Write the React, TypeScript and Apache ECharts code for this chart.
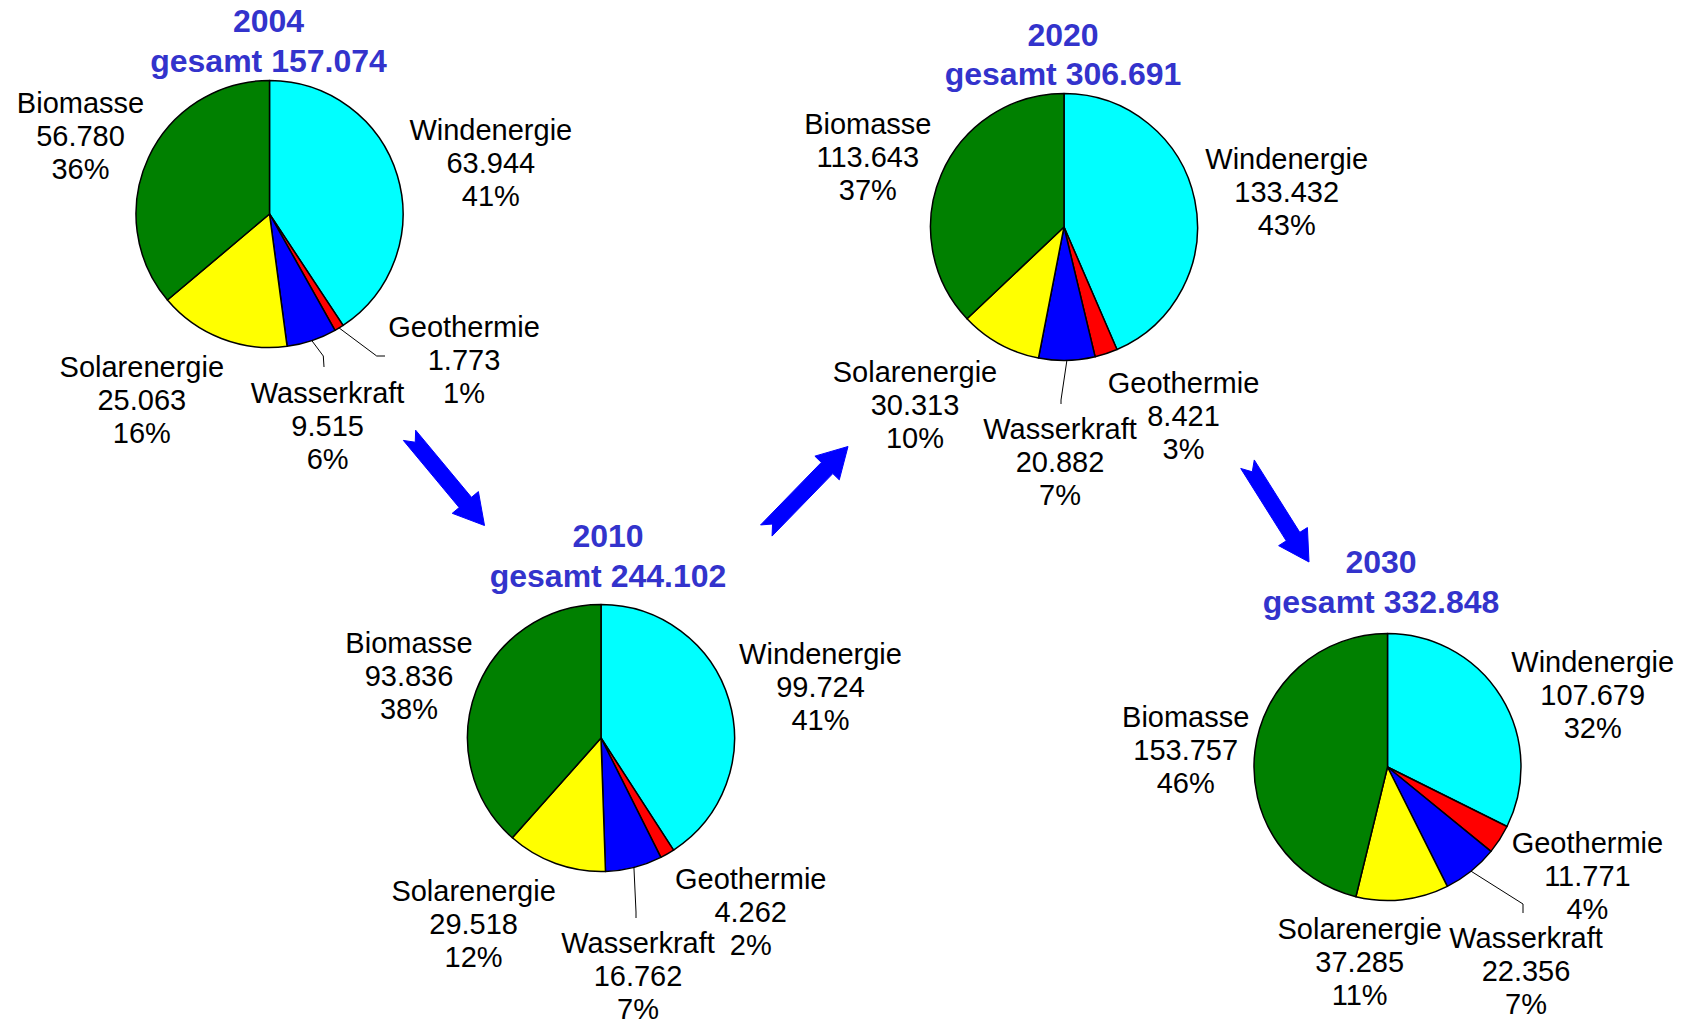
import React, { useEffect, useRef } from "react";
import * as echarts from "echarts";

// Energy sources, in the order the slices run clockwise from 12 o'clock
const sources = ["Windenergie", "Geothermie", "Wasserkraft", "Solarenergie", "Biomasse"];
const sourceColors = ["#00FFFF", "#FF0000", "#0000FF", "#FFFF00", "#008000"];

const years = ["2004", "2010", "2020", "2030"];
const totals = [157074, 244102, 306691, 332848];

const values2004 = [63944, 1773, 9515, 25063, 56780];
const values2010 = [99724, 4262, 16762, 29518, 93836];
const values2020 = [133432, 8421, 20882, 30313, 113643];
const values2030 = [107679, 11771, 22356, 37285, 153757];
const valuesByYear = [values2004, values2010, values2020, values2030];

// ---- layout (pixels) ----
const W = 1684;
const H = 1025;
const FONT = '"Liberation Sans", Arial, Helvetica, sans-serif';
const pieCenters = [
  [269.5, 214],
  [601, 738],
  [1064, 227],
  [1387.5, 767],
];
const pieRadius = 133.5;
const titlePos = [
  [268.5, 1.5],
  [608, 516.5],
  [1063, 15],
  [1381, 542.5],
];
// centre of each label block, per pie, in slice order
const labelPos = [
  [[490.8, 163.2], [464, 359.8], [327.6, 426.4], [141.8, 399.5], [80.5, 136.4]],
  [[820.5, 687], [750.7, 911.8], [638, 975.5], [473.6, 923.6], [409, 675.5]],
  [[1286.7, 192.2], [1183.5, 415.6], [1060, 461.8], [915, 405], [867.8, 156.8]],
  [[1592.7, 694.9], [1587.4, 876.4], [1526, 970.9], [1359.7, 962.3], [1185.7, 749.7]],
];
// leader lines: bend point and end point, keyed "pie-slice"
const leaders: Record<string, number[][]> = {
  "0-1": [[376.7, 356], [385, 356]],
  "0-2": [[323.3, 356], [324, 367]],
  "1-2": [[636, 912], [636, 918]],
  "2-2": [[1061, 400], [1061, 404]],
  "3-2": [[1523, 904], [1523, 913]],
};
// block arrows: tail centre -> tip
const arrows = [
  [[409.5, 435.3], [484.5, 525.5]],
  [[766.3, 530.5], [848, 446.5]],
  [[1247.5, 464.2], [1309, 562]],
];

const formatThousands = (n: number) =>
  String(n).replace(/\B(?=(\d{3})+(?!\d))/g, ".");

function arrowPoints(tail: number[], tip: number[]) {
  const shaftW = 16;
  const headW = 34;
  const headL = 30;
  const notch = 9;
  const dx = tip[0] - tail[0];
  const dy = tip[1] - tail[1];
  const len = Math.hypot(dx, dy);
  const ux = dx / len;
  const uy = dy / len;
  const vx = -uy;
  const vy = ux;
  const pt = (u: number, v: number) => [tail[0] + ux * u + vx * v, tail[1] + uy * u + vy * v];
  return [
    pt(0, -shaftW / 2),
    pt(len - headL, -shaftW / 2),
    pt(len - headL, -headW / 2),
    pt(len, 0),
    pt(len - headL, headW / 2),
    pt(len - headL, shaftW / 2),
    pt(0, shaftW / 2),
    pt(notch, 0),
  ];
}

function buildOption(): echarts.EChartsOption {
  const series: any[] = valuesByYear.map((values, i) => ({
    type: "pie",
    name: years[i],
    center: pieCenters[i],
    radius: pieRadius,
    startAngle: 90,
    clockwise: true,
    avoidLabelOverlap: false,
    percentPrecision: 0,
    silent: true,
    itemStyle: { borderColor: "#000", borderWidth: 1.5 },
    label: {
      show: true,
      position: "outside",
      fontFamily: FONT,
      fontSize: 29,
      lineHeight: 33,
      color: "#000",
      align: "center",
      formatter: (p: any) => `${p.name}\n${formatThousands(p.value)}\n${p.percent}%`,
    },
    labelLine: {
      show: true,
      length: 10,
      length2: 10,
      lineStyle: { color: "#000", width: 1 },
    },
    labelLayout: (params: any) => {
      const j = params.dataIndex;
      const pos = labelPos[i][j];
      const res: any = { x: pos[0], y: pos[1], align: "center", verticalAlign: "middle" };
      const lead = leaders[`${i}-${j}`];
      if (lead && params.labelLinePoints) {
        res.labelLinePoints = [params.labelLinePoints[0], lead[0], lead[1]];
      }
      return res;
    },
    data: values.map((v, j) => ({
      name: sources[j],
      value: v,
      itemStyle: { color: sourceColors[j] },
      labelLine: { show: !!leaders[`${i}-${j}`] },
    })),
  }));

  const graphic: any[] = [
    ...years.map((y, i) => ({
      type: "text",
      x: titlePos[i][0],
      y: titlePos[i][1],
      silent: true,
      style: {
        text: `${y}\ngesamt ${formatThousands(totals[i])}`,
        fill: "#3333CC",
        fontFamily: FONT,
        fontWeight: "bold",
        fontSize: 32,
        lineHeight: 39.5,
        align: "center",
        verticalAlign: "top",
      },
    })),
    ...arrows.map(([tail, tip]) => ({
      type: "polygon",
      silent: true,
      shape: { points: arrowPoints(tail, tip) },
      style: { fill: "#0000FF", stroke: "#0000FF", lineWidth: 1 },
    })),
  ];

  return {
    animation: false,
    backgroundColor: "#FFFFFF",
    series,
    graphic,
  };
}

export default function App() {
  const ref = useRef<HTMLDivElement>(null);
  useEffect(() => {
    if (!ref.current) return;
    const chart = echarts.init(ref.current, undefined, { renderer: "svg" });
    chart.setOption(buildOption());
    return () => chart.dispose();
  }, []);
  return (
    <div
      ref={ref}
      style={{ position: "fixed", left: 0, top: 0, width: W, height: H, background: "#fff" }}
    />
  );
}
